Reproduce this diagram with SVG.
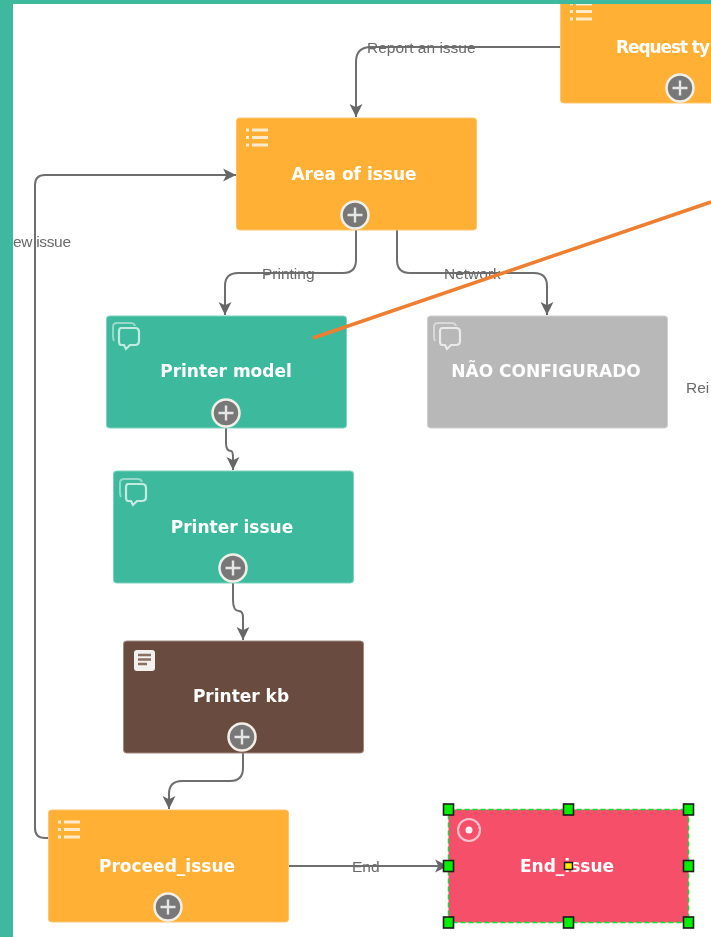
<svg xmlns="http://www.w3.org/2000/svg" width="711" height="937" viewBox="0 0 711 937">
<style>
.box{stroke-width:1;rx:3px}
.orange{fill:#ffb035;stroke:#ffc56e}
.teal{fill:#3eb99e;stroke:#7fd2bf}
.gray{fill:#b8b8b8;stroke:#cfcfcf}
.brown{fill:#6b4c3f;stroke:#a08a80}
.pink{fill:#f5506a}
.t{font-family:"DejaVu Sans","Liberation Sans",sans-serif;font-weight:700;font-size:17px;fill:#fff;text-anchor:middle}
.l{font-family:"Liberation Sans",Arial,sans-serif;font-size:15.5px;fill:#6a6a6a}
.c{fill:none;stroke:#6e6e6e;stroke-width:2}
.ic{fill:none;stroke:#fff;stroke-opacity:.7;stroke-width:2.200}
.ib{fill:none;stroke:#fff;stroke-opacity:.45;stroke-width:2}
.h{fill:#00f000;stroke:#1a1a1a;stroke-width:1.6}
.p{fill:#787878;stroke:#f2efe8;stroke-width:2.500}
.pl{stroke:#e6e6e6;stroke-width:2.400}
.li{stroke:#fff;stroke-opacity:.75;stroke-width:2.800}
</style>
<defs>
<filter id="soft" x="0" y="0" width="711" height="937" filterUnits="userSpaceOnUse"><feGaussianBlur stdDeviation="0.5"/></filter>
<marker id="a" viewBox="0 0 13 13" markerWidth="14" markerHeight="14" refX="12" refY="6.500" orient="auto" markerUnits="userSpaceOnUse"><path d="M0 0.500L12 6.500L0 12.500L3 6.500Z" fill="#666"/></marker>
<g id="plus"><circle r="13.500" class="p"/><path d="M-7.500 0H7.500M0-7.500V7.500" class="pl"/></g>
<g id="list"><path d="M6 0H22M6 7.500H22M6 15H22M0 0H3M0 7.500H3M0 15H3" class="li"/></g>
<g id="chat"><path d="M1 19Q0 17 0 14V5Q0 1 4 1H18Q21 1 22 4" class="ib"/><path d="M8 6H22Q26 6 26 10V19Q26 23 22 23H17L13 27L11 23H8Q6 23 6 19V10Q6 6 8 6Z" class="ic"/></g>
</defs>
<rect width="711" height="937" fill="#fff"/>
<g filter="url(#soft)">
<g id="connectors">
<path class="c" d="M560 47H371Q356 47 356 62V117" marker-end="url(#a)"/>
<path class="c" d="M356 230V260Q356 273 343 273H238Q225 273 225 286V315" marker-end="url(#a)"/>
<path class="c" d="M397 230V260Q397 273 410 273H534Q547 273 547 286V315" marker-end="url(#a)"/>
<path class="c" d="M226 428V443Q226 451 231 451Q233 451 233 458V470" marker-end="url(#a)"/>
<path class="c" d="M233 583V600Q233 611 239 611Q243 611 243 618V640" marker-end="url(#a)"/>
<path class="c" d="M243 753V768Q243 781 230 781H182Q169 781 169 794V809" marker-end="url(#a)"/>
<path class="c" d="M49 838H45Q35 838 35 828V185Q35 175 45 175H236" marker-end="url(#a)"/>
<path class="c" d="M289 866H448" marker-end="url(#a)"/>
</g>
<g id="labels">
<text class="l" x="367" y="53">Report an issue</text>
<text class="l" x="262" y="279">Printing</text>
<text class="l" x="444" y="279">Network</text>
<text class="l" x="686" y="393">Rei</text>
<text class="l" x="13" y="247" textLength="58">ew issue</text>
<text class="l" x="352" y="872">End</text>
</g>
<g id="node-request"><rect class="box orange" x="560.500" y="-9" width="240" height="112"/><use href="#list" x="570" y="4"/><text class="t" x="616" y="53" style="text-anchor:start" textLength="94">Request ty</text><use href="#plus" x="680" y="88"/></g>
<g id="node-area"><rect class="box orange" x="236.500" y="118" width="240" height="112"/><use href="#list" x="246" y="130"/><text class="t" x="354" y="180">Area of issue</text><use href="#plus" x="355" y="215"/></g>
<g id="node-printer-model"><rect class="box teal" x="106.500" y="316" width="240" height="112"/><use href="#chat" x="113" y="322"/><text class="t" x="226" y="377">Printer model</text><use href="#plus" x="226" y="413"/></g>
<g id="node-nao"><rect class="box gray" x="427.500" y="316" width="240" height="112"/><use href="#chat" x="434" y="322"/><text class="t" x="546" y="377">NÃO CONFIGURADO</text></g>
<g id="node-printer-issue"><rect class="box teal" x="113.500" y="471" width="240" height="112"/><use href="#chat" x="120" y="478"/><text class="t" x="232" y="533">Printer issue</text><use href="#plus" x="233" y="568"/></g>
<g id="node-printer-kb"><rect class="box brown" x="123.500" y="641" width="240" height="112"/><rect x="134" y="650" width="21" height="21" rx="3" fill="#fff" fill-opacity=".92"/><path d="M138 655H151M138 659.500H151M138 664H147" stroke="#8a6f63" stroke-width="2.500"/><text class="t" x="241" y="702">Printer kb</text><use href="#plus" x="242" y="737"/></g>
<g id="node-proceed"><rect class="box orange" x="48.500" y="810" width="240" height="112"/><use href="#list" x="58" y="822"/><text class="t" x="167" y="872">Proceed_issue</text><use href="#plus" x="168" y="907"/></g>
<g id="node-end">
<rect class="pink" x="448.500" y="809.500" width="240" height="113"/>
<path d="M448.500 809.500H688.500V922.500H448.500Z" fill="none" stroke="#00e632" stroke-width="1.500" stroke-dasharray="5 3"/>
<circle cx="469" cy="830" r="11" fill="none" stroke="#fff" stroke-opacity=".65" stroke-width="2.200"/><circle cx="469" cy="830" r="3.500" fill="#fff" fill-opacity=".9"/>
<text class="t" x="567" y="872">End_issue</text>
<g id="handles"><rect class="h" x="443.500" y="804" width="10" height="11"/><rect class="h" x="563.500" y="804" width="10" height="11"/><rect class="h" x="683.500" y="804" width="10" height="11"/><rect class="h" x="443.500" y="860.500" width="10" height="11"/><rect class="h" x="683.500" y="860.500" width="10" height="11"/><rect class="h" x="443.500" y="917" width="10" height="11"/><rect class="h" x="563.500" y="917" width="10" height="11"/><rect class="h" x="683.500" y="917" width="10" height="11"/><rect x="564.500" y="862.500" width="8" height="7" fill="#ffee00" stroke="#1a1a1a" stroke-width="1.500"/></g>
</g>
<path id="orange-line" d="M313 338L711 202" fill="none" stroke="#ee7f30" stroke-width="3.500"/>
</g>
<rect id="band-left" x="0" y="0" width="13" height="937" fill="#3eb99e"/>
<rect id="band-top" x="0" y="0" width="711" height="4" fill="#3eb99e"/>
</svg>
